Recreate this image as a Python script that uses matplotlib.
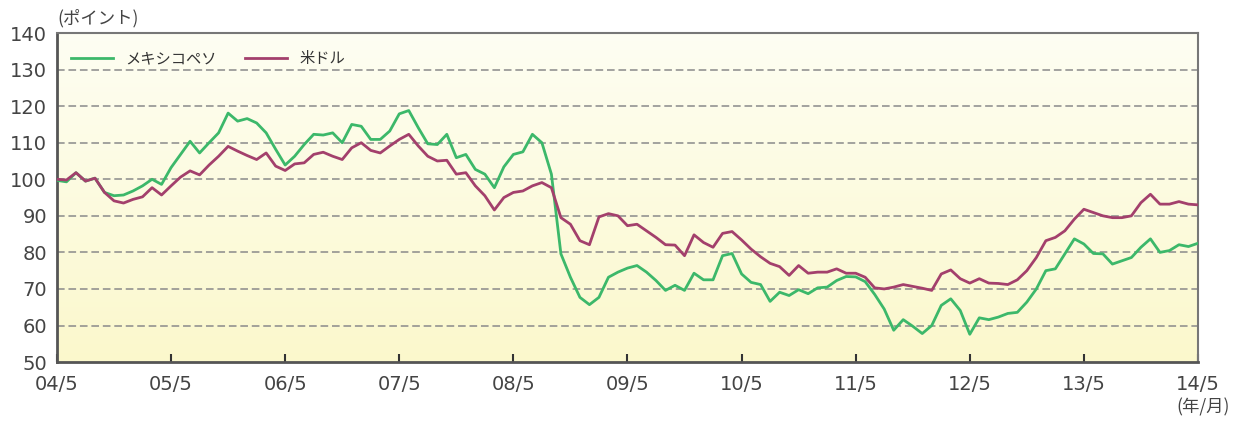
import numpy as np
import matplotlib.pyplot as plt
from matplotlib.colors import LinearSegmentedColormap

plt.rcParams['font.family'] = ['Noto Sans CJK JP', 'DejaVu Sans']

# monthly index values, 2004/5 .. 2014/5 (121 points)
usd = [100, 99.8, 101.8, 99.5, 100.3, 96.4, 94.1, 93.5, 94.5, 95.2,
       97.7, 95.7, 98.2, 100.6, 102.3, 101.2, 103.9, 106.3, 109, 107.7,
       106.5, 105.4, 107.2, 103.6, 102.4, 104.2, 104.5, 106.8, 107.4, 106.3,
       105.4, 108.6, 110, 107.9, 107.2, 109.1, 110.9, 112.3, 109.1, 106.3,
       105, 105.2, 101.4, 101.8, 98.2, 95.5, 91.6, 95, 96.4, 96.8,
       98.2, 99.1, 97.7, 89.5, 87.7, 83.2, 82.1, 89.7, 90.6, 90,
       87.3, 87.7, 85.9, 84.1, 82.1, 82, 79.1, 84.8, 82.7, 81.4,
       85.2, 85.7, 83.4, 80.9, 78.8, 77, 76.1, 73.7, 76.4, 74.3,
       74.6, 74.6, 75.5, 74.3, 74.3, 73.2, 70.3, 70, 70.5, 71.2,
       70.7, 70.2, 69.6, 74.1, 75.2, 72.8, 71.6, 72.8, 71.6, 71.5,
       71.2, 72.5, 75, 78.6, 83.2, 84.1, 85.9, 89.1, 91.8, 90.9,
       90, 89.5, 89.5, 90, 93.6, 95.9, 93.2, 93.2, 93.9, 93.2,
       93]

mxn = [99.7, 99.3, 101.8, 99.5, 100.3, 96.4, 95.5, 95.7, 96.8, 98.2,
       100, 98.6, 103.2, 106.8, 110.4, 107.2, 110, 112.7, 118.1, 115.9,
       116.6, 115.4, 112.7, 108.2, 103.9, 106.3, 109.5, 112.3, 112.1, 112.7,
       110, 115, 114.5, 110.9, 110.9, 113.2, 117.9, 118.8, 114.1, 109.7,
       109.5, 112.3, 105.9, 106.8, 102.7, 101.4, 97.7, 103.4, 106.8, 107.5,
       112.3, 110, 101.4, 79.6, 73.2, 67.7, 65.7, 67.7, 73.2, 74.6,
       75.7, 76.4, 74.6, 72.3, 69.6, 71, 69.6, 74.3, 72.5, 72.5,
       79.1, 79.7, 74.1, 71.8, 71.2, 66.6, 69.1, 68.2, 69.8, 68.7,
       70.3, 70.5, 72.3, 73.4, 73.3, 72, 68.5, 64.5, 58.7, 61.6,
       59.8, 57.8, 60, 65.5, 67.3, 64.1, 57.6, 62.1, 61.6, 62.3,
       63.3, 63.6, 66.4, 70, 75, 75.5, 79.6, 83.7, 82.3, 79.7,
       79.6, 76.8, 77.7, 78.6, 81.4, 83.7, 80, 80.5, 82.1, 81.6,
       82.5]

x_labels = ['04/5', '05/5', '06/5', '07/5', '08/5', '09/5',
            '10/5', '11/5', '12/5', '13/5', '14/5']
y_ticks = [50, 60, 70, 80, 90, 100, 110, 120, 130, 140]

months = np.arange(len(usd))

fig = plt.figure(figsize=(12.33, 4.21), dpi=100)
ax = fig.add_axes([0.0462, 0.140, 0.9254, 0.7815])

# pale cream-to-yellow background
bg = LinearSegmentedColormap.from_list('bg', ['#fbf8cc', '#fefef3'])
ax.imshow(np.linspace(0, 1, 256).reshape(-1, 1), cmap=bg, origin='lower',
          extent=[0, 120, 50, 140], aspect='auto', zorder=0)

for yv in y_ticks[1:-1]:
    ax.axhline(yv, color='#8a8a8a', lw=1.1, ls=(0, (5, 2.5)), zorder=1)

ax.plot(months, mxn, color='#3cb86a', lw=2, label='メキシコペソ', zorder=3)
ax.plot(months, usd, color='#a3406c', lw=2, label='米ドル', zorder=3)

ax.set_xlim(0, 120)
ax.set_ylim(50, 140)
ax.set_xticks(np.arange(0, 121, 12))
ax.set_xticklabels(x_labels, family='DejaVu Sans')
ax.set_yticks(y_ticks)
ax.set_yticklabels([str(v) for v in y_ticks], family='DejaVu Sans')
ax.tick_params(axis='x', direction='in', length=6, width=1.5, color='#333333',
               labelsize=14, labelcolor='#444444', pad=9)
ax.tick_params(axis='y', length=0, labelsize=14, labelcolor='#444444', pad=7)

for side in ['left', 'bottom']:
    ax.spines[side].set_color('#555555')
    ax.spines[side].set_linewidth(2)
for side in ['top', 'right']:
    ax.spines[side].set_color('#777777')
    ax.spines[side].set_linewidth(1.5)

ax.legend(loc='upper left', bbox_to_anchor=(0.0, 0.99), ncol=2, frameon=False,
          fontsize=11, handlelength=2.8, columnspacing=1.8,
          labelcolor='#333333')

fig.text(0.0462, 0.945, '(ポイント)', fontsize=12.5, color='#444444')
fig.text(0.997, 0.02, '(年/月)', fontsize=12.5, color='#444444', ha='right')

fig.savefig('out.png', dpi=100)
